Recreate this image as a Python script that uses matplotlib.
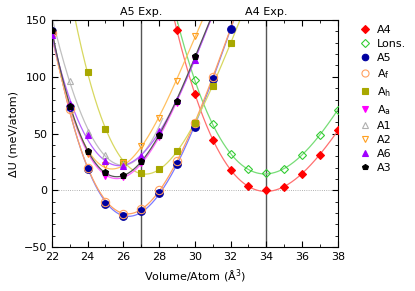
import numpy as np
import matplotlib
matplotlib.use("Agg")
import matplotlib.pyplot as plt
from matplotlib.lines import Line2D
from matplotlib.ticker import MultipleLocator

# energies (meV/atom) against volume per atom (A^3)
v_a4 = [29, 30, 31, 32, 33, 34, 35, 36, 37, 38]
u_a4 = [141, 85, 44, 18, 4, 0, 3, 14.5, 31, 53]
v_lons = [30, 31, 32, 33, 34, 35, 36, 37, 38]
u_lons = [97, 58, 32, 18.5, 15, 19, 31, 49, 71]
v_a5 = [22, 23, 24, 25, 26, 27, 28, 29, 30, 31, 32]
u_a5 = [140, 73, 18.6, -11.8, -23, -18.5, -2.5, 23.5, 56, 98, 142]
v_af = [22, 23, 24, 25, 26, 27, 28, 29, 30, 31]
u_af = [139, 72, 19.5, -10.3, -20.6, -16.2, 0, 26, 59, 100]
v_ah = [24, 25, 26, 27, 28, 29, 30, 31, 32]
u_ah = [104, 53.7, 25, 15.6, 19, 34.5, 59, 92, 130]
v_aa = [22, 23, 24, 25, 26, 27, 28, 29, 30]
u_aa = [137, 73, 33, 13, 12, 24, 47, 77, 116]
v_a1 = [23, 24, 25, 26, 27]
u_a1 = [96.7, 51.6, 31, 23.5, 30]
v_a2 = [22, 24, 25, 26, 27, 28, 29, 30]
u_a2 = [137, 32, 22, 24, 39, 63.4, 96.5, 136]
v_a6 = [22, 23, 24, 25, 26, 27, 28, 29, 30]
u_a6 = [137, 76, 49, 26, 21, 30, 52, 80, 115]
v_a3 = [22, 23, 24, 25, 26, 27, 28, 29, 30]
u_a3 = [141, 74.6, 34.3, 15.8, 13.9, 25.7, 48.7, 78.8, 118]

# label, x, y, marker, marker colour, filled, line colour
series = [
    ("A4", v_a4, u_a4, "D", "#ff0000", True, "#ff7070"),
    ("Lons.", v_lons, u_lons, "D", "#33cc33", False, "#77dd77"),
    ("A5", v_a5, u_a5, "o", "#0000a0", True, "#7a7aff"),
    ("A$_\\mathrm{f}$", v_af, u_af, "o", "#ffa060", False, "#ffa060"),
    ("A$_\\mathrm{h}$", v_ah, u_ah, "s", "#a8a800", True, "#d8d860"),
    ("A$_\\mathrm{a}$", v_aa, u_aa, "v", "#ff00ff", True, "#ff66ff"),
    ("A1", v_a1, u_a1, "^", "#b0b0b0", False, "#c0c0c0"),
    ("A2", v_a2, u_a2, "v", "#ffa020", False, "#ffc060"),
    ("A6", v_a6, u_a6, "^", "#a000ff", True, "#b866ff"),
    ("A3", v_a3, u_a3, "p", "#000000", True, "#555555"),
]

plt.rcParams["font.family"] = "DejaVu Sans"
plt.rcParams["font.size"] = 8

fig = plt.figure(figsize=(4.15, 2.91), dpi=100)
ax = fig.add_axes([0.125, 0.151, 0.689, 0.78])

ax.axhline(0, color="#999999", lw=0.6, ls=":", zorder=1)
ax.axvline(27, color="#555555", lw=1.0, zorder=1)
ax.axvline(34, color="#555555", lw=1.0, zorder=1)

handles = []
for label, x, y, mk, col, filled, lcol in series:
    deg = 3 if len(x) > 5 else 2
    c = np.polyfit(x, y, deg)
    grid = np.linspace(min(x) - 1.2, max(x) + 1.2, 300)
    ax.plot(grid, np.polyval(c, grid), color=lcol, lw=0.9, zorder=2)
    if mk == "o":
        ms = 6 if not filled else 5.5
    elif mk == "D":
        ms = 4.5
    else:
        ms = 5
    face = col if filled else "none"
    ax.plot(x, y, ls="none", marker=mk, ms=ms, mfc=face, mec=col, mew=0.8, zorder=3)
    handles.append(Line2D([], [], ls="none", marker=mk, ms=ms * 0.85, mfc=face, mec=col,
                          mew=0.8, label=label))

ax.set_xlim(22, 38)
ax.set_ylim(-50, 150)
ax.xaxis.set_major_locator(MultipleLocator(2))
ax.xaxis.set_minor_locator(MultipleLocator(1))
ax.yaxis.set_major_locator(MultipleLocator(50))
ax.yaxis.set_minor_locator(MultipleLocator(10))
ax.tick_params(which="both", direction="in", top=True, right=True)
ax.tick_params(which="major", length=4)
ax.tick_params(which="minor", length=2)
ax.set_xlabel("Volume/Atom (Å$^3$)")
ax.set_ylabel("ΔU (meV/atom)")

ax.text(27, 153, "A5 Exp.", ha="center", va="bottom")
ax.text(34, 153, "A4 Exp.", ha="center", va="bottom")

fig.legend(handles=handles, loc="upper left", bbox_to_anchor=(0.855, 0.93),
           frameon=False, handlelength=1.0, handletextpad=0.6, labelspacing=0.37,
           borderaxespad=0)

fig.savefig("out.png", dpi=100)
